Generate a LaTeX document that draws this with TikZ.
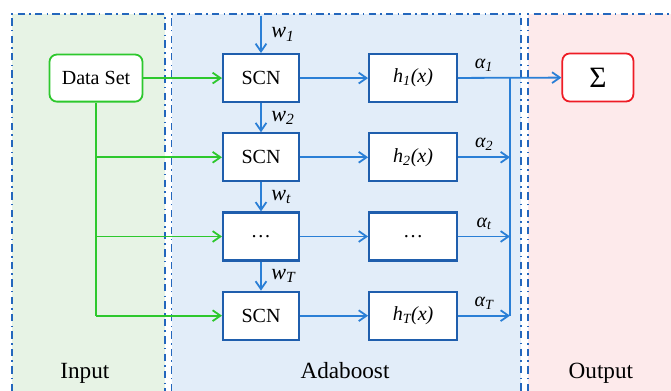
\documentclass[tikz,border=0pt]{standalone}
\usepackage{fontspec}
\setmainfont{Liberation Serif}
\usetikzlibrary{arrows.meta,calc,positioning}
\definecolor{inbg}{HTML}{E7F3E5}
\definecolor{adabg}{HTML}{E2EDF9}
\definecolor{outbg}{HTML}{FDEAEB}
\definecolor{frame}{HTML}{2467BD}
\definecolor{boxblue}{HTML}{1F5EAD}
\definecolor{flow}{HTML}{2A7FD6}
\definecolor{feed}{HTML}{2DC82D}
\definecolor{sumred}{HTML}{EE1C25}

\begin{document}
\begin{tikzpicture}[>={Straight Barb[length=2.6mm,width=3.6mm]},
  panel/.style={frame,line width=1.5pt,dash pattern=on 7pt off 4pt on 1.5pt off 4pt},
  blk/.style={draw=boxblue,fill=white,line width=2pt,minimum height=1.6cm,font=\fontsize{19}{22}\selectfont},
  fl/.style={flow,line width=1.7pt,->},
  fd/.style={feed,line width=1.7pt,->},
  wlab/.style={right=2mm,text=black,font=\fontsize{21}{24}\selectfont\itshape},
  alab/.style={above=2pt,text=black,font=\fontsize{19}{22}\selectfont\itshape},
  plab/.style={anchor=base,font=\fontsize{22}{26}\selectfont}]
 \useasboundingbox(0,0)rectangle(22.367,13.033);
 % three panels
 \fill[inbg](.4,0)rectangle(5.5,12.57);
 \fill[adabg](5.72,0)rectangle(17.37,12.57);
 \fill[outbg](17.6,0)rectangle(22.367,12.57);
 \draw[panel](.4,0)--(.4,12.57)--(5.5,12.57)--(5.5,0);
 \draw[panel](5.72,0)--(5.72,12.57)--(17.37,12.57)--(17.37,0);
 \draw[panel](17.6,0)--(17.6,12.57)--(22.367,12.57);
 \node[plab](lin)at(2.83,.43){Input};
 \node[plab](lada)at(11.5,.43){Adaboost};
 \node[plab](lout)at(20.03,.43){Output};
 % nodes
 \node[draw=feed,fill=white,line width=1.7pt,rounded corners=7pt,minimum width=3.1cm,minimum height=1.57cm,font=\fontsize{19}{22}\selectfont](ds)at(3.2,10.43){Data Set};
 \node[blk,minimum width=2.53cm](scn1)at(8.7,10.43){SCN};
 \node[blk,minimum width=2.53cm](scn2)at(8.7,7.79){SCN};
 \node[blk,minimum width=2.53cm](scn3)at(8.7,5.15){\dots};
 \node[blk,minimum width=2.53cm](scn4)at(8.7,2.51){SCN};
 \node[blk,minimum width=2.93cm](h1)at(13.77,10.43){\itshape h\textsubscript{1}(x)};
 \node[blk,minimum width=2.93cm](h2)at(13.77,7.79){\itshape h\textsubscript{2}(x)};
 \node[blk,minimum width=2.93cm](h3)at(13.77,5.15){\dots};
 \node[blk,minimum width=2.93cm](h4)at(13.77,2.51){\itshape h\textsubscript{T}(x)};
 \node[draw=sumred,fill=white,line width=1.7pt,rounded corners=7pt,minimum width=2.37cm,minimum height=1.6cm,font=\fontsize{28}{30}\selectfont](sum)at(19.93,10.45){Σ};
 \coordinate(top)at(8.7,12.5);
 \coordinate(bus)at(17,10.43);
 % weights
 \draw[fl](top)--node[wlab]{w\textsubscript{1}}(scn1);
 \draw[fl](scn1)--node[wlab]{w\textsubscript{2}}(scn2);
 \draw[fl](scn2)--node[wlab]{w\textsubscript{t}}(scn3);
 \draw[fl](scn3)--node[wlab]{w\textsubscript{T}}(scn4);
 % learners and combination
 \foreach \i in {1,...,4}
  \draw[fl](scn\i)--(h\i);
 \draw[fl](h1)--node[alab,pos=.25]{α\textsubscript{1}}(sum);
 \foreach \i/\a in {2/2,3/t,4/T}
  \draw[fl](h\i)--node[alab,pos=.5]{α\textsubscript{\a}}(bus|-h\i);
 \draw[flow,line width=1.7pt](bus|-h4)--(bus);
 % data feed
 \draw[fd](ds)--(scn1);
 \draw[feed,line width=2.8pt](ds.south)--(ds.south|-scn3);
 \draw[feed,line width=1.7pt](ds.south|-scn3)--(ds.south|-scn4);
 \foreach \i in {2,3,4}
  \draw[fd](ds.south|-scn\i)--(scn\i);
\end{tikzpicture}
\end{document}
